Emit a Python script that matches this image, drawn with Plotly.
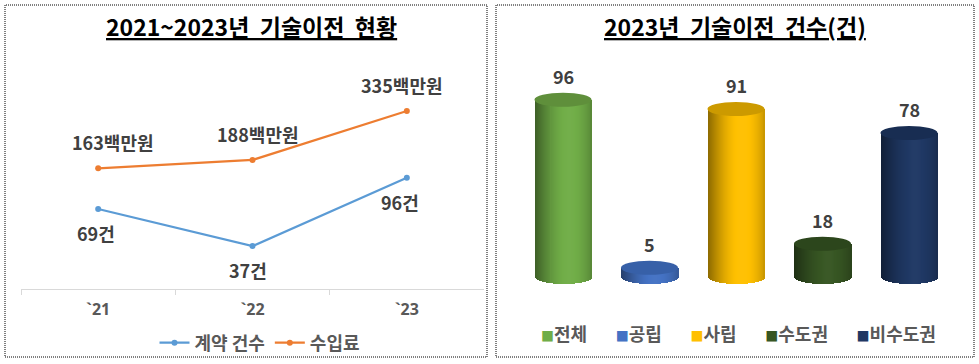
import math
import plotly.graph_objects as go

# ---------------- data ----------------
years = ["`21", "`22", "`23"]
contract_name = "계약 건수"
royalty_name = "수입료"
contracts = [69, 37, 96]          # 건
royalty = [163, 188, 335]         # 백만원

categories = ["전체", "공립", "사립", "수도권", "비수도권"]
counts_2023 = [96, 5, 91, 18, 78]

left_title = "2021~2023년\u00a0\u00a0기술이전\u00a0\u00a0현황"
right_title = "2023년\u00a0\u00a0기술이전\u00a0\u00a0건수(건)"

# ---------------- style ----------------
W, H = 979, 364
FONT = "Noto Sans CJK KR"
blue, orange = "#5B9BD5", "#ED7D31"
bar_colors = ["#70AD47", "#4472C4", "#FFC000", "#375623", "#1F3864"]
top_colors = ["#5F8F3B", "#3760A8", "#CC9A00", "#2C461C", "#182D52"]
label_dx_royalty = [15, 5, -5]
label_dx_contract = [-2, -5, -7]


def px(x):
    return x / W


def py(y):
    return 1 - y / H


def shade(hex_color, f):
    h = hex_color.lstrip("#")
    r, g, b = (int(h[i:i + 2], 16) for i in (0, 2, 4))
    if f <= 1:
        r, g, b = (int(round(c * f)) for c in (r, g, b))
    else:
        t = f - 1
        r, g, b = (int(round(c + (255 - c) * t)) for c in (r, g, b))
    return f"rgb({r},{g},{b})"


def cyl_factor(t):
    if t < 0.6:
        return 0.55 + 0.47 * math.sin(math.pi / 2 * t / 0.6)
    return 1.02 - 0.24 * ((t - 0.6) / 0.4) ** 2


fig = go.Figure()

# ---------------- left: line chart ----------------
fig.add_trace(go.Scatter(
    x=years, y=contracts, name=contract_name, mode="lines+markers",
    line=dict(color=blue, width=2.25), marker=dict(size=6, color=blue),
    xaxis="x", yaxis="y", legend="legend", hoverinfo="skip"))
fig.add_trace(go.Scatter(
    x=years, y=royalty, name=royalty_name, mode="lines+markers",
    line=dict(color=orange, width=2.25), marker=dict(size=6, color=orange),
    xaxis="x", yaxis="y2", legend="legend", hoverinfo="skip"))

annotations = []
lbl_font = dict(family=FONT, size=18, color="#404040", weight="bold")
for i, (yr, v) in enumerate(zip(years, royalty)):
    annotations.append(dict(x=yr, y=v, xref="x", yref="y2", text=f"{v}백만원",
                            showarrow=False, yshift=26, xshift=label_dx_royalty[i],
                            font=lbl_font))
for i, (yr, v) in enumerate(zip(years, contracts)):
    annotations.append(dict(x=yr, y=v, xref="x", yref="y", text=f"{v}건",
                            showarrow=False, yshift=-24, xshift=label_dx_contract[i],
                            font=lbl_font))

# ---------------- right: cylinder bars ----------------
N = 57
w = 0.66           # cylinder width (x units)
e = 3.79           # ellipse half-height (y units)
dw = w / N
shapes = []
for i, (cat, v) in enumerate(zip(categories, counts_2023)):
    offs, widths, bases, lens, cols = [], [], [], [], []
    for j in range(N):
        c = -w / 2 + (j + 0.5) * dw
        u = c / (w / 2)
        base = -e * math.sqrt(max(0.0, 1 - u * u))
        off = -w / 2 + j * dw
        offs.append(off)
        widths.append(min(2 * dw, w / 2 - off))
        bases.append(base)
        lens.append(v - base)
        cols.append(shade(bar_colors[i], cyl_factor((j + 0.5) / N)))
    fig.add_trace(go.Bar(
        x=[i] * N, y=lens, base=bases, offset=offs, width=widths,
        marker=dict(color=cols, line=dict(width=0)),
        xaxis="x3", yaxis="y3", showlegend=False, hoverinfo="skip", name=cat))
    shapes.append(dict(type="circle", xref="x3", yref="y3",
                       x0=i - w / 2, x1=i + w / 2, y0=v - e, y1=v + e,
                       fillcolor=top_colors[i], line=dict(width=0), layer="above"))
    annotations.append(dict(x=i, y=v + e, xref="x3", yref="y3", text=str(v),
                            showarrow=False, yanchor="bottom", yshift=2,
                            font=dict(family=FONT, size=18, color="#404040", weight="bold")))

# right legend (built from categories / colours)
legend_parts = [f"<span style='color:{c};font-size:13px'>■</span>{n}"
                for n, c in zip(categories, bar_colors)]
annotations.append(dict(x=px(738), y=py(333), xref="paper", yref="paper",
                        text=("\u00a0" * 7).join(legend_parts),
                        showarrow=False, xanchor="center", yanchor="middle",
                        font=dict(family=FONT, size=18, color="#595959", weight="bold")))

# titles
title_font = dict(family=FONT, size=23, color="black", weight="bold")
annotations.append(dict(x=px(251), y=py(26), xref="paper", yref="paper",
                        text=f"<u>{left_title}</u>", showarrow=False,
                        xanchor="center", yanchor="middle", font=title_font))
annotations.append(dict(x=px(735), y=py(26), xref="paper", yref="paper",
                        text=f"<u>{right_title}</u>", showarrow=False,
                        xanchor="center", yanchor="middle", font=title_font))

# dotted panel borders
for x0, x1 in [(5, 487), (496, 974)]:
    shapes.append(dict(type="rect", xref="paper", yref="paper",
                       x0=px(x0), x1=px(x1), y0=py(357), y1=py(5),
                       line=dict(color="black", width=1, dash="1px,1px"),
                       fillcolor="rgba(0,0,0,0)", layer="above"))

fig.update_layout(
    width=W, height=H, margin=dict(l=0, r=0, t=0, b=0),
    paper_bgcolor="white", plot_bgcolor="white",
    barmode="overlay", bargap=0,
    font=dict(family=FONT),
    xaxis=dict(domain=[px(21), px(484)], type="category", range=[-0.5, 2.5],
               showgrid=False, showline=True, linecolor="#D9D9D9", linewidth=1,
               ticks="outside", ticklen=5, tickcolor="#D9D9D9", tickson="boundaries",
               tickfont=dict(family="Noto Sans", size=16, color="#595959", weight="bold"),
               ticklabelstandoff=6, anchor="y", fixedrange=True),
    yaxis=dict(domain=[py(289), py(50)], range=[0, 206.2], visible=False,
               anchor="x", fixedrange=True),
    yaxis2=dict(overlaying="y", range=[-199.4, 518.1], visible=False,
                anchor="x", fixedrange=True),
    xaxis3=dict(domain=[px(519.75), px(952.25)], range=[-0.5, 4.5], visible=False,
                anchor="y3", fixedrange=True),
    yaxis3=dict(domain=[py(300), py(60)], range=[-12.46, 117.55], visible=False,
                anchor="x3", fixedrange=True),
    legend=dict(orientation="h", x=px(260), xanchor="center", y=py(343), yanchor="middle",
                font=dict(family=FONT, size=18, color="#595959", weight="bold"),
                bgcolor="rgba(0,0,0,0)", itemclick=False, itemdoubleclick=False),
    showlegend=True,
    annotations=annotations,
    shapes=shapes,
)

fig.write_html("out.html", config={"displayModeBar": False},
               post_script="document.body.style.margin='0px';")
